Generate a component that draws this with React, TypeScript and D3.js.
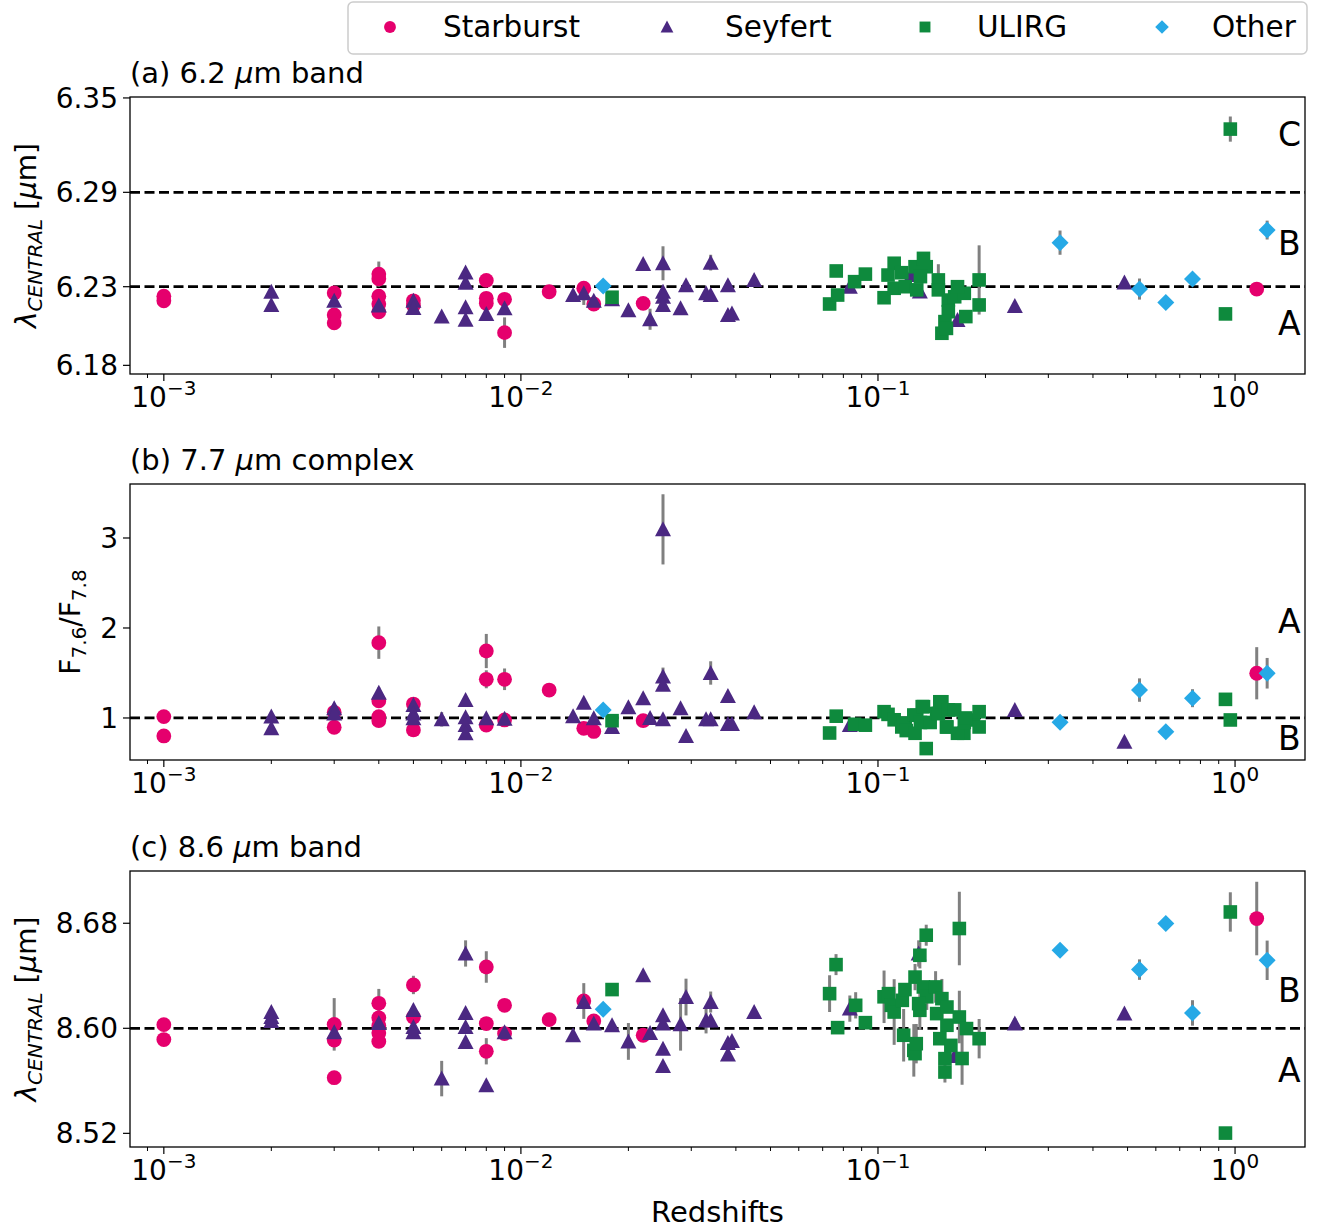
import * as d3 from "d3";
import React from "react";

// [redshift, value, error]
type Pt = [number, number, number];

const classNames = ["Starburst", "Seyfert", "ULIRG", "Other"];
const classColors = ["#e5006d", "#4b2882", "#0e8a3d", "#26a9e6"];
const classShapes = ["circle", "triangle", "square", "diamond"];

// (a) 6.2 um band
const aStarburst: Pt[] = [
  [0.001, 6.224, 0], [0.001, 6.221, 0],
  [0.003, 6.226, 0], [0.003, 6.212, 0], [0.003, 6.207, 0],
  [0.004, 6.238, 0.008], [0.004, 6.235, 0], [0.004, 6.224, 0], [0.004, 6.219, 0], [0.004, 6.214, 0],
  [0.005, 6.221, 0], [0.005, 6.218, 0],
  [0.008, 6.234, 0.002], [0.008, 6.2226, 0], [0.008, 6.2194, 0],
  [0.009, 6.222, 0], [0.009, 6.2008, 0.0097],
  [0.012, 6.2268, 0], [0.015, 6.229, 0], [0.016, 6.219, 0], [0.022, 6.2194, 0],
  [1.15, 6.2285, 0],
];
const aSeyfert: Pt[] = [
  [0.002, 6.2268, 0], [0.002, 6.2184, 0],
  [0.003, 6.221, 0], [0.004, 6.218, 0],
  [0.005, 6.221, 0], [0.005, 6.2165, 0], [0.006, 6.211, 0],
  [0.007, 6.239, 0], [0.007, 6.2325, 0], [0.007, 6.217, 0], [0.007, 6.209, 0],
  [0.008, 6.2126, 0], [0.009, 6.2163, 0],
  [0.014, 6.2247, 0], [0.015, 6.2258, 0.0074], [0.016, 6.221, 0], [0.018, 6.222, 0],
  [0.02, 6.215, 0], [0.022, 6.2444, 0], [0.023, 6.2093, 0.0067],
  [0.025, 6.2449, 0.0108], [0.025, 6.2268, 0], [0.025, 6.2236, 0], [0.025, 6.2184, 0],
  [0.028, 6.2163, 0], [0.029, 6.231, 0.002], [0.033, 6.2258, 0], [0.034, 6.2453, 0.005],
  [0.034, 6.2247, 0], [0.038, 6.231, 0], [0.038, 6.212, 0], [0.039, 6.213, 0], [0.045, 6.2343, 0.003],
  [0.0834, 6.23, 0], [0.124, 6.2374, 0], [0.131, 6.227, 0], [0.167, 6.2088, 0],
  [0.2417, 6.2177, 0], [0.49, 6.2326, 0.002],
];
const aUlirg: Pt[] = [
  [0.018, 6.2233, 0],
  [0.0732, 6.219, 0], [0.0764, 6.24, 0], [0.0771, 6.2247, 0], [0.086, 6.2332, 0], [0.0922, 6.238, 0.002],
  [0.104, 6.223, 0], [0.1067, 6.2374, 0], [0.111, 6.2449, 0], [0.111, 6.229, 0], [0.1166, 6.2389, 0],
  [0.1192, 6.23, 0], [0.127, 6.2427, 0], [0.1284, 6.228, 0], [0.1341, 6.248, 0], [0.1365, 6.2427, 0],
  [0.1315, 6.2364, 0], [0.1476, 6.2343, 0.01], [0.1476, 6.228, 0], [0.1574, 6.2215, 0],
  [0.1574, 6.2141, 0], [0.154, 6.2078, 0], [0.151, 6.2004, 0], [0.1555, 6.2035, 0],
  [0.164, 6.2236, 0], [0.1745, 6.2258, 0.003], [0.1762, 6.211, 0], [0.192, 6.2343, 0.022],
  [0.192, 6.2184, 0], [0.167, 6.23, 0],
  [0.94, 6.2127, 0], [0.97, 6.3302, 0.008],
];
const aOther: Pt[] = [
  [0.017, 6.2304, 0.002], [0.3235, 6.258, 0.0077], [0.54, 6.2285, 0.0067],
  [0.64, 6.22, 0], [0.76, 6.2349, 0], [1.23, 6.266, 0.006],
];

// (b) 7.7 um complex
const bStarburst: Pt[] = [
  [0.001, 1.015, 0], [0.001, 0.8, 0],
  [0.003, 1.063, 0], [0.003, 0.897, 0],
  [0.004, 1.837, 0.18], [0.004, 1.19, 0], [0.004, 1.015, 0], [0.004, 0.97, 0],
  [0.005, 1.155, 0], [0.005, 0.867, 0],
  [0.008, 1.744, 0.19], [0.008, 1.43, 0.1], [0.008, 0.922, 0],
  [0.009, 1.43, 0.12], [0.009, 0.978, 0],
  [0.012, 1.31, 0.05], [0.015, 0.885, 0], [0.016, 0.85, 0], [0.022, 0.97, 0],
  [1.15, 1.497, 0.29],
];
const bSeyfert: Pt[] = [
  [0.002, 1.015, 0], [0.002, 0.885, 0],
  [0.003, 1.107, 0], [0.003, 1.05, 0], [0.004, 1.28, 0.06],
  [0.005, 1.144, 0], [0.005, 1.05, 0], [0.005, 0.997, 0], [0.006, 0.985, 0.08],
  [0.007, 1.2, 0], [0.007, 1.007, 0], [0.007, 0.922, 0], [0.007, 0.83, 0],
  [0.008, 0.997, 0], [0.009, 0.99, 0],
  [0.014, 1.02, 0], [0.015, 1.17, 0.05], [0.016, 0.997, 0], [0.018, 0.9, 0],
  [0.02, 1.12, 0], [0.022, 1.22, 0.05], [0.023, 1.0, 0],
  [0.025, 3.096, 0.39], [0.025, 1.46, 0.1], [0.025, 1.37, 0], [0.025, 0.985, 0],
  [0.028, 1.107, 0.05], [0.029, 0.8, 0], [0.033, 0.985, 0], [0.034, 1.5, 0.13],
  [0.034, 0.985, 0], [0.038, 1.244, 0], [0.038, 0.933, 0], [0.039, 0.933, 0], [0.045, 1.063, 0],
  [0.0834, 0.922, 0], [0.2417, 1.089, 0], [0.49, 0.737, 0],
];
const bUlirg: Pt[] = [
  [0.018, 0.97, 0],
  [0.0732, 0.833, 0], [0.0764, 1.02, 0], [0.086, 0.93, 0], [0.0922, 0.92, 0],
  [0.104, 1.07, 0.03], [0.1067, 1.04, 0], [0.111, 0.98, 0], [0.1166, 0.9, 0], [0.1192, 0.94, 0],
  [0.118, 0.94, 0], [0.12, 0.86, 0], [0.126, 1.033, 0], [0.133, 1.126, 0.04],
  [0.127, 0.83, 0], [0.1284, 1.03, 0], [0.1341, 1.126, 0.04], [0.1365, 0.66, 0], [0.1315, 0.95, 0],
  [0.14, 0.95, 0], [0.146, 1.05, 0], [0.149, 1.18, 0],
  [0.1476, 1.05, 0], [0.151, 1.18, 0.04], [0.1555, 0.9, 0], [0.1574, 1.09, 0], [0.164, 1.09, 0],
  [0.156, 0.9, 0], [0.174, 0.83, 0], [0.185, 0.978, 0],
  [0.167, 0.83, 0.05], [0.1745, 0.95, 0], [0.1762, 1.0, 0], [0.192, 1.07, 0], [0.192, 0.9, 0],
  [0.94, 1.207, 0], [0.97, 0.978, 0],
];
const bOther: Pt[] = [
  [0.017, 1.09, 0], [0.3235, 0.952, 0], [0.54, 1.31, 0.13],
  [0.64, 0.848, 0], [0.76, 1.22, 0.1], [1.23, 1.497, 0.17],
];

// (c) 8.6 um band
const cStarburst: Pt[] = [
  [0.001, 8.6028, 0], [0.001, 8.5914, 0],
  [0.003, 8.603, 0.02], [0.003, 8.591, 0], [0.003, 8.5624, 0],
  [0.004, 8.619, 0.011], [0.004, 8.608, 0], [0.004, 8.602, 0], [0.004, 8.5964, 0], [0.004, 8.59, 0],
  [0.005, 8.633, 0.007], [0.005, 8.6086, 0],
  [0.008, 8.6467, 0.012], [0.008, 8.6036, 0], [0.008, 8.5825, 0.01],
  [0.009, 8.6175, 0], [0.009, 8.596, 0],
  [0.012, 8.6066, 0], [0.015, 8.6208, 0.0136], [0.016, 8.6056, 0], [0.022, 8.5947, 0],
  [1.15, 8.6836, 0.028],
];
const cSeyfert: Pt[] = [
  [0.002, 8.6124, 0], [0.002, 8.6086, 0], [0.002, 8.6056, 0],
  [0.003, 8.597, 0], [0.004, 8.604, 0],
  [0.005, 8.614, 0], [0.005, 8.601, 0], [0.005, 8.597, 0.005], [0.006, 8.5617, 0.0135],
  [0.007, 8.657, 0.01], [0.007, 8.6117, 0], [0.007, 8.601, 0], [0.007, 8.5896, 0],
  [0.008, 8.5566, 0], [0.009, 8.597, 0],
  [0.014, 8.5947, 0], [0.015, 8.62, 0], [0.016, 8.6036, 0], [0.018, 8.6023, 0],
  [0.02, 8.59, 0.014], [0.022, 8.6404, 0], [0.023, 8.5964, 0],
  [0.025, 8.6099, 0], [0.025, 8.6036, 0], [0.025, 8.5845, 0], [0.025, 8.5713, 0],
  [0.028, 8.603, 0.02], [0.029, 8.6238, 0.014], [0.033, 8.6061, 0.01], [0.034, 8.62, 0.008],
  [0.034, 8.606, 0], [0.038, 8.5888, 0], [0.038, 8.58, 0], [0.039, 8.5903, 0], [0.045, 8.6124, 0],
  [0.0834, 8.615, 0.01], [0.13, 8.657, 0.01], [0.164, 8.579, 0], [0.2417, 8.6036, 0.004], [0.49, 8.6112, 0.004],
];
const cUlirg: Pt[] = [
  [0.018, 8.6295, 0],
  [0.0732, 8.6264, 0.014], [0.0763, 8.6485, 0.008], [0.0771, 8.6005, 0], [0.0866, 8.6175, 0.01], [0.0922, 8.6043, 0],
  [0.104, 8.624, 0.02], [0.107, 8.6264, 0], [0.109, 8.6175, 0], [0.111, 8.6124, 0.025], [0.117, 8.6213, 0],
  [0.119, 8.6295, 0], [0.118, 8.5947, 0.02], [0.127, 8.639, 0.01], [0.126, 8.5832, 0.02], [0.127, 8.5807, 0],
  [0.128, 8.5883, 0.015], [0.131, 8.6556, 0.01], [0.1365, 8.6709, 0.008], [0.131, 8.6137, 0.015],
  [0.134, 8.6315, 0], [0.137, 8.624, 0.01], [0.13, 8.6188, 0], [0.145, 8.6315, 0.012], [0.146, 8.6112, 0],
  [0.151, 8.6226, 0.015], [0.156, 8.6162, 0], [0.156, 8.6023, 0], [0.149, 8.5921, 0], [0.154, 8.5769, 0],
  [0.154, 8.5667, 0.008], [0.16, 8.587, 0], [0.169, 8.6086, 0.02], [0.169, 8.676, 0.028], [0.172, 8.577, 0.02],
  [0.177, 8.5998, 0], [0.192, 8.5921, 0.015],
  [0.94, 8.5202, 0], [0.97, 8.6886, 0.015],
];
const cOther: Pt[] = [
  [0.017, 8.6145, 0.003], [0.3235, 8.6594, 0], [0.54, 8.6447, 0.0078],
  [0.64, 8.6798, 0], [0.76, 8.6117, 0.0097], [1.23, 8.6518, 0.015],
];

const aTicks = [6.18, 6.23, 6.29, 6.35];
const bTicks = [1, 2, 3];
const cTicks = [8.52, 8.6, 8.68];
const xMajorTicks = [1e-3, 1e-2, 1e-1, 1];
const xTickExponents = ["\u22123", "\u22122", "\u22121", "0"];

const FONT = "DejaVu Sans";
const W = 1317;
const H = 1232;
const left = 130;
const right = 1305;

const x = d3.scaleLog().domain([8.04e-4, 1.57]).range([left, right]);
const minorTicks: number[] = [];
for (let e = -4; e <= 0; e++) {
  for (let m = 2; m <= 9; m++) {
    const v = m * Math.pow(10, e);
    if (v >= x.domain()[0] && v <= x.domain()[1]) minorTicks.push(v);
  }
}

const panels = [
  {
    title: "(a) 6.2 ", titleRest: "m band", top: 97, bottom: 374,
    domain: [6.1745, 6.3506], ticks: aTicks, fmt: d3.format(".2f"), hline: [6.29, 6.23],
    series: [aStarburst, aSeyfert, aUlirg, aOther],
    regions: [["C", 6.3194], ["B", 6.2502], ["A", 6.1993]],
    ylabel: "lambda", ylabelX: 36,
  },
  {
    title: "(b) 7.7 ", titleRest: "m complex", top: 484, bottom: 760,
    domain: [0.533, 3.6], ticks: bTicks, fmt: d3.format("d"), hline: [1],
    series: [bStarburst, bSeyfert, bUlirg, bOther],
    regions: [["A", 1.941], ["B", 0.644]],
    ylabel: "ratio", ylabelX: 80,
  },
  {
    title: "(c) 8.6 ", titleRest: "m band", top: 871, bottom: 1147,
    domain: [8.5096, 8.7198], ticks: cTicks, fmt: d3.format(".2f"), hline: [8.6],
    series: [cStarburst, cSeyfert, cUlirg, cOther],
    regions: [["B", 8.6203], ["A", 8.5593]],
    ylabel: "lambda", ylabelX: 36,
  },
];

function Marker({ shape, cx, cy, s, color }: { shape: string; cx: number; cy: number; s: number; color: string }) {
  if (shape === "circle") return <circle cx={cx} cy={cy} r={7.4 * s} fill={color} />;
  if (shape === "square")
    return <rect x={cx - 6.8 * s} y={cy - 6.8 * s} width={13.6 * s} height={13.6 * s} fill={color} />;
  if (shape === "triangle")
    return (
      <path
        d={`M${cx},${cy - 8 * s}L${cx + 8 * s},${cy + 7 * s}L${cx - 8 * s},${cy + 7 * s}Z`}
        fill={color}
      />
    );
  return (
    <path
      d={`M${cx},${cy - 8.5 * s}L${cx + 8.5 * s},${cy}L${cx},${cy + 8.5 * s}L${cx - 8.5 * s},${cy}Z`}
      fill={color}
    />
  );
}

function Panel({ p }: { p: (typeof panels)[number] }) {
  const y = d3.scaleLinear().domain(p.domain).range([p.bottom, p.top]);
  const midY = (p.top + p.bottom) / 2;
  return (
    <g>
      <text x={left} y={p.top - 14} fontSize={29}>
        {p.title}
        <tspan fontStyle="italic">μ</tspan>
        {p.titleRest}
      </text>

      {p.hline.map((v) => (
        <line key={v} x1={left} x2={right} y1={y(v)} y2={y(v)} stroke="#000" strokeWidth={2.8} strokeDasharray="10,4.5" />
      ))}

      {/* error bars */}
      {p.series.map((s, i) =>
        s
          .filter((d) => d[2] > 0)
          .map((d, j) => (
            <line
              key={`e${i}-${j}`}
              x1={x(d[0])}
              x2={x(d[0])}
              y1={y(d[1] - d[2])}
              y2={y(d[1] + d[2])}
              stroke="#808080"
              strokeWidth={3}
            />
          )),
      )}

      {p.series.map((s, i) =>
        s.map((d, j) => (
          <Marker key={`m${i}-${j}`} shape={classShapes[i]} cx={x(d[0])} cy={y(d[1])} s={1} color={classColors[i]} />
        )),
      )}

      {p.regions.map(([t, v]) => (
        <text key={t as string} x={x(1.32)} y={y(v as number)} fontSize={33}>
          {t}
        </text>
      ))}

      <rect x={left} y={p.top} width={right - left} height={p.bottom - p.top} fill="none" stroke="#000" strokeWidth={1.3} />

      {/* y ticks */}
      {p.ticks.map((t) => (
        <g key={t}>
          <line x1={left - 7} x2={left} y1={y(t)} y2={y(t)} stroke="#000" strokeWidth={1.2} />
          <text x={left - 12} y={y(t)} dy="0.35em" textAnchor="end" fontSize={28}>
            {p.fmt(t)}
          </text>
        </g>
      ))}

      {/* x ticks */}
      {minorTicks.map((t) => (
        <line key={`n${t}`} x1={x(t)} x2={x(t)} y1={p.bottom} y2={p.bottom + 4} stroke="#000" strokeWidth={1} />
      ))}
      {xMajorTicks.map((t, i) => (
        <g key={`M${t}`}>
          <line x1={x(t)} x2={x(t)} y1={p.bottom} y2={p.bottom + 7} stroke="#000" strokeWidth={1.2} />
          <text x={x(t)} y={p.bottom + 33} textAnchor="middle" fontSize={28}>
            10
            <tspan fontSize={20} dy={-12}>
              {xTickExponents[i]}
            </tspan>
          </text>
        </g>
      ))}

      {p.ylabel === "lambda" ? (
        <text transform={`translate(${p.ylabelX},${midY}) rotate(-90)`} textAnchor="middle" fontSize={28}>
          <tspan fontStyle="italic">λ</tspan>
          <tspan fontSize={20} fontStyle="italic" dy={6}>
            CENTRAL
          </tspan>
          <tspan dy={-6}> [</tspan>
          <tspan fontStyle="italic">μ</tspan>
          <tspan>m]</tspan>
        </text>
      ) : (
        <text transform={`translate(${p.ylabelX},${midY}) rotate(-90)`} textAnchor="middle" fontSize={28}>
          F
          <tspan fontSize={20} dy={6}>
            7.6
          </tspan>
          <tspan dy={-6}>/F</tspan>
          <tspan fontSize={20} dy={6}>
            7.8
          </tspan>
        </text>
      )}
    </g>
  );
}

const legendMarkerX = [390, 667, 925, 1162];
const legendTextX = [443, 725, 977, 1212];

export default function App() {
  return (
    <svg
      width={W}
      height={H}
      style={{ position: "absolute", left: 0, top: 0, background: "#fff" }}
      fontFamily={FONT}
    >
      <rect x={0} y={0} width={W} height={H} fill="#fff" />
      {panels.map((p) => (
        <Panel key={p.title} p={p} />
      ))}

      <text x={(left + right) / 2} y={1222} textAnchor="middle" fontSize={29}>
        Redshifts
      </text>

      {/* legend */}
      <rect x={348} y={2} width={959} height={52} rx={5} fill="#fff" stroke="#cccccc" strokeWidth={1.5} />
      {classNames.map((n, i) => (
        <g key={n}>
          <Marker shape={classShapes[i]} cx={legendMarkerX[i]} cy={27} s={0.8} color={classColors[i]} />
          <text x={legendTextX[i]} y={37} fontSize={29.5}>
            {n}
          </text>
        </g>
      ))}
    </svg>
  );
}
